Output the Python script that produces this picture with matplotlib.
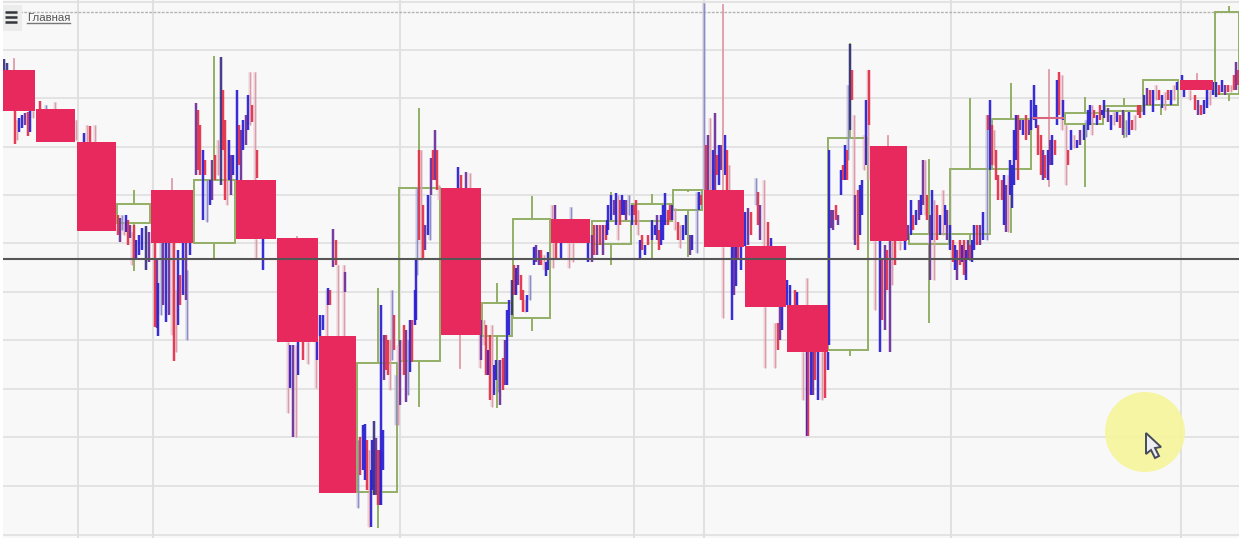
import matplotlib
matplotlib.use("Agg")
import matplotlib.pyplot as plt
from matplotlib.patches import Rectangle, Circle, Polygon
from matplotlib.collections import LineCollection

grid_prices = [2, 50, 98, 147, 195, 243, 292, 340, 389, 437, 486, 535]
grid_times = [78, 153, 400, 634, 704, 951, 1181]
current_price = 259
ceiling_price = 12

# big bearish candles: start, end, open, close
bear_start = [3, 36, 77, 151, 236, 277, 319, 441, 551, 704, 745, 787, 870, 1180]
bear_end = [35, 75, 116, 193, 276, 318, 356, 481, 590, 744, 786, 828, 907, 1213]
bear_open = [70, 109, 142, 190, 180, 238, 336, 188, 219, 190, 246, 305, 146, 80]
bear_close = [111, 142, 231, 243, 239, 342, 493, 335, 243, 247, 307, 352, 241, 90]

# big bullish (hollow) candles
bull_start = [117, 194, 357, 399, 482, 513, 592, 632, 673, 828, 909, 950, 992, 1065, 1105, 1143, 1215]
bull_end = [150, 235, 397, 440, 512, 550, 631, 672, 702, 868, 949, 990, 1031, 1103, 1142, 1178, 1239]
bull_top = [204, 180, 363, 188, 303, 219, 221, 204, 190, 138, 234, 169, 119, 113, 106, 80, 12]
bull_bottom = [223, 243, 492, 361, 336, 318, 244, 221, 210, 350, 244, 234, 169, 124, 111, 105, 94]
bull_wick_time = [134, 214, 378, 419, 497, 532, 611, 652, 688, 850, 929, 970, 1011, 1085, 1124, 1161, 1229]
bull_high = [191, 57, 289, 109, 284, 197, 193, 195, 191, 44, 160, 99, 84, 98, 99, 80, 7]
bull_low = [270, 258, 527, 406, 407, 330, 264, 259, 256, 355, 322, 260, 232, 186, 137, 114, 100]

# flat candle
doji_start, doji_end, doji_price = 1033, 1063, 118

# big candle wicks: time, high, low
bear_wicks = [(14, 59, 70), (172, 179, 190), (297, 237, 238), (460, 335, 368), (723, 5, 190),
              (888, 136, 146), (1197, 74, 80), (1049, 70, 186)]

# small bars: time, high, low, kind (b blue, r red, p purple, n navy, w pale blue, q pale red)
seg_a = [(4, 59, 70, 'n'), (7, 63, 70, 'n'), (15, 111, 144, 'r'), (17, 120, 140, 'q'), (19, 118, 132, 'b'),
         (22, 115, 128, 'b'), (25, 113, 125, 'p'), (28, 112, 136, 'r'), (30, 111, 132, 'b'), (33, 111, 118, 'q'),
         (40, 101, 109, 'r'), (46, 105, 109, 'w'), (55, 102, 109, 'q'), (76, 120, 140, 'q'),
         (84, 133, 142, 'b'), (87, 125, 142, 'q'), (90, 126, 142, 'r'), (95, 125, 142, 'q')]
seg_b = [(118, 215, 235, 'r'), (120, 218, 242, 'p'), (122, 215, 230, 'w'), (124, 222, 235, 'q'), (126, 215, 232, 'b'),
         (128, 220, 245, 'r'), (130, 225, 238, 'p'), (132, 232, 265, 'q'), (134, 225, 260, 'r'), (136, 240, 258, 'b'),
         (139, 235, 255, 'b'), (142, 228, 250, 'b'), (146, 226, 270, 'n'), (149, 232, 262, 'p')]
seg_c = [(155, 243, 327, 'r'), (157, 260, 328, 'p'), (158, 283, 336, 'b'), (161, 243, 315, 'w'), (163, 243, 305, 'p'),
         (166, 243, 322, 'b'), (169, 243, 315, 'p'), (172, 243, 335, 'q'), (174, 243, 361, 'r'), (176, 290, 352, 'q'),
         (178, 250, 325, 'b'), (180, 275, 305, 'r'), (183, 243, 295, 'b'), (186, 243, 300, 'p'), (187, 270, 340, 'w'),
         (190, 225, 255, 'b')]
seg_d = [(196, 103, 175, 'p'), (198, 110, 170, 'r'), (200, 125, 175, 'r'), (203, 150, 220, 'b'), (205, 160, 175, 'r'),
         (207, 180, 222, 'w'), (210, 180, 205, 'b'), (212, 160, 200, 'p'), (215, 155, 180, 'r'), (218, 140, 175, 'q'),
         (221, 57, 185, 'n'), (223, 90, 150, 'r'), (225, 120, 200, 'r'), (227, 140, 205, 'q'), (229, 140, 180, 'b'),
         (231, 155, 195, 'p'), (233, 155, 175, 'b'), (237, 90, 180, 'b'), (239, 125, 165, 'r'), (241, 130, 180, 'p'),
         (243, 120, 150, 'b'), (246, 115, 145, 'p'), (248, 95, 130, 'b'), (250, 72, 125, 'q'), (252, 105, 122, 'r'),
         (255, 72, 180, 'q'), (257, 150, 178, 'r'), (256, 239, 258, 'q'), (263, 239, 270, 'b')]
seg_e = [(288, 342, 413, 'q'), (290, 345, 388, 'b'), (293, 345, 437, 'p'), (296, 345, 437, 'q'), (298, 342, 375, 'b'),
         (303, 342, 360, 'r'), (308, 342, 364, 'q'), (316, 342, 388, 'q'), (317, 342, 360, 'b'),
         (320, 315, 336, 'b'), (323, 315, 330, 'b'), (327, 290, 336, 'q'), (328, 288, 305, 'b'), (330, 290, 305, 'r'),
         (333, 229, 267, 'p'), (336, 240, 265, 'r'), (338, 265, 336, 'q'), (344, 265, 336, 'q'), (345, 272, 292, 'p')]
seg_f = [(358, 440, 508, 'w'), (360, 437, 475, 'r'), (363, 425, 470, 'b'), (365, 424, 480, 'b'), (367, 440, 490, 'r'),
         (369, 450, 527, 'q'), (371, 470, 527, 'b'), (372, 440, 490, 'b'), (374, 421, 495, 'n'), (376, 438, 495, 'p'),
         (378, 450, 505, 'r'), (380, 450, 505, 'p'), (381, 305, 505, 'b'), (383, 430, 470, 'b')]
seg_g = [(384, 335, 380, 'p'), (386, 335, 370, 'r'), (388, 340, 375, 'r'), (390, 340, 390, 'q'), (392, 290, 360, 'w'),
         (394, 315, 350, 'r'), (396, 375, 425, 'w'), (398, 345, 425, 'q'), (400, 340, 405, 'p'), (402, 340, 360, 'q'),
         (404, 325, 375, 'r'), (406, 330, 402, 'p'), (408, 340, 395, 'w'), (410, 320, 372, 'b'), (412, 320, 362, 'r'),
         (415, 290, 325, 'b'), (416, 260, 320, 'b'),
         (417, 187, 275, 'w'), (419, 150, 240, 'r'), (421, 150, 260, 'q'), (423, 205, 260, 'r'), (425, 225, 250, 'p'),
         (428, 195, 235, 'b'), (430, 195, 240, 'w'), (431, 158, 195, 'p'), (433, 150, 180, 'r'), (435, 130, 180, 'p'),
         (437, 150, 190, 'r'), (439, 185, 200, 'q'),
         (458, 167, 188, 'b'), (461, 175, 188, 'r'), (466, 172, 188, 'p'), (470, 173, 188, 'q'), (480, 335, 368, 'q')]
seg_h = [(481, 320, 360, 'p'), (484, 320, 345, 'q'), (486, 325, 375, 'r'), (488, 350, 375, 'b'), (490, 335, 400, 'r'),
         (492, 325, 407, 'q'), (494, 365, 395, 'b'), (496, 360, 380, 'b'), (498, 360, 392, 'w'), (500, 360, 405, 'p'),
         (503, 358, 390, 'r'), (505, 340, 385, 'p'), (507, 310, 385, 'b'), (509, 300, 335, 'b'), (512, 280, 315, 'n'),
         (514, 265, 295, 'r'), (516, 268, 295, 'b'), (518, 265, 285, 'p'), (521, 275, 300, 'r'), (523, 290, 312, 'r'),
         (525, 300, 312, 'q'), (527, 295, 312, 'b'), (530, 275, 300, 'w'), (534, 247, 265, 'b'), (536, 245, 262, 'p'),
         (539, 250, 265, 'p'), (541, 250, 265, 'r'), (544, 255, 270, 'q'), (546, 262, 276, 'b'), (548, 252, 270, 'b')]
seg_i = [(553, 243, 268, 'q'), (556, 243, 260, 'r'), (561, 243, 258, 'b'), (569, 243, 268, 'q'), (573, 243, 262, 'q'),
         (552, 205, 219, 'q'), (555, 205, 219, 'p'), (571, 207, 219, 'w'),
         (588, 240, 262, 'b'), (592, 235, 262, 'p'), (594, 225, 255, 'r'), (597, 225, 255, 'p'), (600, 225, 245, 'r'),
         (603, 225, 255, 'p'), (606, 225, 240, 'r'), (607, 220, 235, 'b'), (608, 205, 230, 'b'), (611, 195, 220, 'b'),
         (614, 200, 215, 'p'), (616, 193, 225, 'b'), (618, 195, 240, 'q'), (620, 200, 225, 'r'), (622, 195, 215, 'b'),
         (624, 200, 215, 'b'), (626, 200, 220, 'p'), (629, 195, 215, 'w'), (632, 205, 225, 'b'), (634, 205, 215, 'r'),
         (636, 200, 225, 'r')]
seg_j = [(638, 210, 235, 'q'), (640, 240, 258, 'b'), (642, 235, 250, 'r'), (645, 245, 255, 'b'), (648, 235, 245, 'r'),
         (652, 220, 240, 'b'), (655, 225, 235, 'b'), (657, 215, 240, 'p'), (659, 230, 250, 'r'), (661, 215, 245, 'b'),
         (663, 205, 240, 'b'), (665, 193, 225, 'b'), (668, 210, 225, 'r'), (670, 205, 220, 'r'), (672, 205, 220, 'b'),
         (675, 208, 230, 'q'), (678, 222, 240, 'r'), (680, 225, 248, 'q'), (683, 225, 240, 'b'), (686, 215, 235, 'b'),
         (690, 235, 255, 'p'), (692, 235, 250, 'b'), (697, 192, 253, 'w'), (699, 192, 210, 'b'), (701, 195, 205, 'r')]
seg_k = [(704, 3, 190, 'w'), (706, 145, 190, 'r'), (708, 135, 190, 'p'), (710, 118, 190, 'q'), (713, 150, 190, 'b'),
         (715, 113, 190, 'p'), (717, 155, 175, 'r'), (719, 145, 185, 'b'), (721, 145, 170, 'p'), (725, 135, 175, 'b'),
         (727, 150, 190, 'r'), (729, 165, 190, 'q'), (723, 247, 318, 'q'), (732, 247, 320, 'b'), (734, 247, 295, 'p'),
         (736, 247, 286, 'b'), (738, 247, 260, 'r'), (741, 247, 270, 'b'),
         (745, 212, 246, 'b'), (748, 208, 245, 'p'), (751, 212, 235, 'r'), (756, 178, 205, 'w'), (758, 192, 225, 'r'),
         (760, 205, 240, 'p'), (764, 180, 246, 'q'), (768, 222, 246, 'r'), (771, 238, 246, 'b')]
seg_l = [(765, 307, 368, 'q'), (775, 323, 368, 'q'), (778, 323, 350, 'r'), (780, 305, 340, 'p'), (782, 307, 330, 'b'),
         (787, 280, 305, 'b'), (790, 285, 305, 'b'), (795, 290, 305, 'r'), (797, 292, 305, 'b'), (807, 278, 305, 'q'),
         (803, 352, 400, 'q'), (807, 352, 436, 'b'), (808, 352, 436, 'r'), (811, 352, 395, 'b'), (813, 352, 395, 'p'),
         (815, 352, 380, 'r'), (818, 352, 400, 'b'), (822, 352, 400, 'q'), (825, 352, 398, 'r'), (828, 352, 370, 'b')]
seg_m = [(829, 150, 345, 'b'), (831, 210, 228, 'p'), (833, 210, 230, 'p'), (836, 205, 220, 'r'), (838, 215, 225, 'p'),
         (841, 170, 195, 'b'), (843, 165, 180, 'r'), (845, 145, 180, 'b'), (847, 150, 180, 'r'), (848, 85, 160, 'w'),
         (850, 44, 130, 'n'), (852, 70, 100, 'r'), (854, 115, 240, 'q'), (855, 195, 245, 'p'), (858, 190, 250, 'r'),
         (860, 185, 235, 'b'), (862, 180, 215, 'b'), (864, 135, 170, 'q'), (866, 100, 165, 'b'), (868, 70, 180, 'q'),
         (869, 70, 125, 'r')]
seg_n = [(875, 241, 310, 'q'), (880, 241, 352, 'b'), (882, 260, 320, 'r'), (885, 245, 330, 'p'), (887, 250, 290, 'r'),
         (890, 241, 352, 'p'), (892, 241, 285, 'q'), (895, 241, 265, 'r'), (900, 241, 250, 'q'), (905, 235, 250, 'b'),
         (908, 225, 240, 'p'), (911, 200, 235, 'b'), (913, 215, 230, 'r'), (916, 210, 225, 'b'), (919, 200, 220, 'p'),
         (921, 195, 215, 'b'), (923, 160, 205, 'p'), (925, 160, 215, 'q'), (927, 195, 220, 'r'), (930, 215, 280, 'p'),
         (932, 190, 240, 'b'), (934, 200, 280, 'q'), (937, 205, 240, 'r'), (940, 215, 235, 'b'), (943, 190, 235, 'q'),
         (945, 205, 225, 'b'), (947, 210, 240, 'p')]
seg_o = [(950, 225, 250, 'b'), (953, 240, 262, 'r'), (955, 245, 270, 'b'), (957, 250, 280, 'p'), (960, 240, 265, 'r'),
         (962, 245, 262, 'b'), (964, 240, 275, 'r'), (966, 250, 280, 'b'), (968, 240, 260, 'p'), (970, 245, 260, 'r'),
         (972, 240, 262, 'b'), (974, 225, 250, 'b'), (977, 225, 245, 'r'), (980, 225, 245, 'p'), (983, 212, 240, 'b'),
         (987, 115, 240, 'w'), (988, 115, 130, 'r'), (990, 100, 170, 'b'), (992, 125, 165, 'r'), (994, 130, 165, 'q'),
         (996, 150, 180, 'r'), (998, 175, 200, 'r'), (1002, 180, 200, 'r'), (1004, 175, 225, 'b'), (1006, 185, 232, 'p'),
         (1008, 175, 232, 'q'), (1010, 160, 195, 'b'), (1012, 165, 208, 'b'), (1014, 130, 185, 'b'), (1016, 115, 160, 'b'),
         (1018, 115, 180, 'r'), (1020, 120, 130, 'p'), (1023, 120, 135, 'b'), (1026, 115, 140, 'r'), (1029, 120, 135, 'p'),
         (1031, 100, 130, 'b'), (1034, 85, 120, 'b'), (1036, 105, 128, 'b')]
seg_p = [(1038, 125, 155, 'r'), (1041, 135, 175, 'r'), (1043, 150, 180, 'p'), (1045, 155, 178, 'r'), (1048, 150, 180, 'b'),
         (1050, 140, 165, 'p'), (1052, 135, 165, 'b'), (1055, 140, 155, 'r'), (1057, 80, 125, 'b'), (1059, 72, 115, 'r'),
         (1062, 75, 130, 'q'), (1063, 100, 120, 'b'),
         (1066, 125, 185, 'q'), (1068, 150, 165, 'r'), (1071, 130, 150, 'b'), (1074, 135, 148, 'q'), (1077, 140, 148, 'b'),
         (1080, 130, 145, 'p'), (1084, 125, 140, 'b'), (1086, 120, 137, 'w'), (1088, 110, 130, 'b'), (1090, 105, 125, 'b'),
         (1092, 105, 135, 'q'), (1094, 110, 118, 'r'), (1097, 115, 125, 'b'), (1100, 105, 120, 'r'), (1102, 110, 115, 'b'),
         (1104, 100, 118, 'b')]
seg_q = [(1108, 108, 122, 'p'), (1111, 115, 130, 'b'), (1114, 112, 125, 'q'), (1117, 112, 122, 'b'), (1120, 115, 128, 'r'),
         (1123, 110, 135, 'p'), (1126, 120, 137, 'w'), (1129, 112, 135, 'b'), (1132, 120, 130, 'r'), (1135, 115, 130, 'q'),
         (1138, 105, 115, 'r'), (1140, 105, 118, 'r'), (1144, 95, 115, 'b'), (1147, 88, 105, 'p'), (1150, 90, 105, 'r'),
         (1153, 90, 112, 'b'), (1156, 85, 100, 'q'), (1159, 90, 100, 'r'), (1162, 95, 108, 'b'), (1165, 92, 110, 'q'),
         (1168, 90, 100, 'r'), (1171, 90, 105, 'b'), (1174, 85, 100, 'q'), (1177, 82, 90, 'b')]
seg_r = [(1182, 75, 80, 'b'), (1184, 90, 97, 'b'), (1190, 90, 100, 'q'), (1195, 95, 110, 'r'), (1198, 100, 115, 'p'),
         (1201, 105, 115, 'r'), (1204, 100, 114, 'b'), (1207, 90, 108, 'b'), (1210, 90, 105, 'q'), (1213, 82, 95, 'b'),
         (1216, 82, 97, 'b'), (1219, 85, 95, 'r'), (1222, 80, 92, 'b'), (1225, 85, 95, 'p'), (1228, 85, 92, 'r'),
         (1231, 85, 92, 'q'), (1234, 75, 90, 'r'), (1236, 62, 90, 'p'), (1238, 70, 85, 'r')]
small_bars = (seg_a + seg_b + seg_c + seg_d + seg_e + seg_f + seg_g + seg_h + seg_i + seg_j
              + seg_k + seg_l + seg_m + seg_n + seg_o + seg_p + seg_q + seg_r)

kind_color = {'b': '#2a1fd2', 'r': '#e2304a', 'p': '#6d2f9a', 'n': '#211a78', 'w': '#8e8cc6', 'q': '#dc9cab'}
kind_width = {'b': 1.3, 'r': 1.3, 'p': 1.3, 'n': 1.1, 'w': 1.0, 'q': 1.0}

plt.rcParams['font.family'] = ['Liberation Sans', 'DejaVu Sans']
fig = plt.figure(figsize=(12.39, 5.38), dpi=100, facecolor='white')
ax = fig.add_axes([3 / 1239, 0, 1236 / 1239, 1])
ax.set_facecolor('#f8f8f8')
ax.set_xlim(3, 1239)
ax.set_ylim(538, 0)
for side in ax.spines.values():
    side.set_visible(False)
ax.set_xticks(grid_times)
ax.set_yticks(grid_prices)
ax.tick_params(left=False, bottom=False, labelleft=False, labelbottom=False)
ax.grid(True, axis='y', color='#dfdfdf', lw=1.2, zorder=1)
ax.grid(True, axis='x', color='#e0e0e0', lw=1.4, zorder=1)
ax.set_axisbelow(True)

# yellow highlight behind the pointer (grid shows faintly through it)
ax.add_patch(Circle((1145, 432), 40, fc='#f5f59a', ec='none', alpha=0.9, zorder=1.5))

# small bars: soft halo first, then pale bars, then saturated bars
order = sorted(small_bars, key=lambda b: b[3] not in 'wq')
segments = [[(t, hi), (t, lo)] for t, hi, lo, _ in order]
ax.add_collection(LineCollection(segments, colors=[kind_color[b[3]] for b in order],
                                 linewidths=2.6, alpha=0.28, zorder=2))
ax.add_collection(LineCollection(segments, colors=[kind_color[b[3]] for b in order],
                                 linewidths=[kind_width[b[3]] for b in order], zorder=2.1))

# hollow candles and their wicks
green = '#93ae66'
for s, e, top, bottom, wt, hi, lo in zip(bull_start, bull_end, bull_top, bull_bottom,
                                         bull_wick_time, bull_high, bull_low):
    ax.add_patch(Rectangle((s, top), e - s, bottom - top, fc='none', ec=green, lw=1.4, zorder=2.05))
    ax.plot([wt, wt], [hi, top], color=green, lw=1.4, zorder=2.05)
    ax.plot([wt, wt], [bottom, lo], color=green, lw=1.4, zorder=2.05)

# bearish candles
for t, hi, lo in bear_wicks:
    ax.plot([t, t], [hi, lo], color='#dc9cab', lw=1.3, zorder=2)
ax.plot([doji_start, doji_end], [doji_price, doji_price], color='#d9657f', lw=1.5, zorder=3)
for s, e, o, c in zip(bear_start, bear_end, bear_open, bear_close):
    ax.add_patch(Rectangle((s, o), e - s, c - o, fc='#e7295e', ec='none', zorder=4))

ax.axhline(current_price, color='#565656', lw=1.5, zorder=5)
ax.axhline(ceiling_price, color='#b4b4b4', lw=1, ls=(0, (2, 1)), zorder=1.6)

# menu button and title
ax.add_patch(Rectangle((3, 5), 19, 26, fc='#ececec', ec='none', zorder=5))
for y in (12, 17, 22):
    ax.plot([5, 17], [y, y], color='#33363a', lw=1.8, solid_capstyle='butt', zorder=6)
ax.text(27, 18, 'Главная', fontsize=8.2, color='#555555', va='center', ha='left', zorder=6)
ax.plot([27, 70], [23, 23], color='#777777', lw=1, zorder=6)

# pointer
ax.add_patch(Polygon([(1146, 433), (1146, 454), (1151, 450), (1155, 458), (1159, 456), (1155, 448), (1161, 447)],
                     closed=True, fc='#eceef2', ec='#474a5c', lw=1.4, zorder=7))

fig.savefig('out.png', dpi=100, facecolor='white')
